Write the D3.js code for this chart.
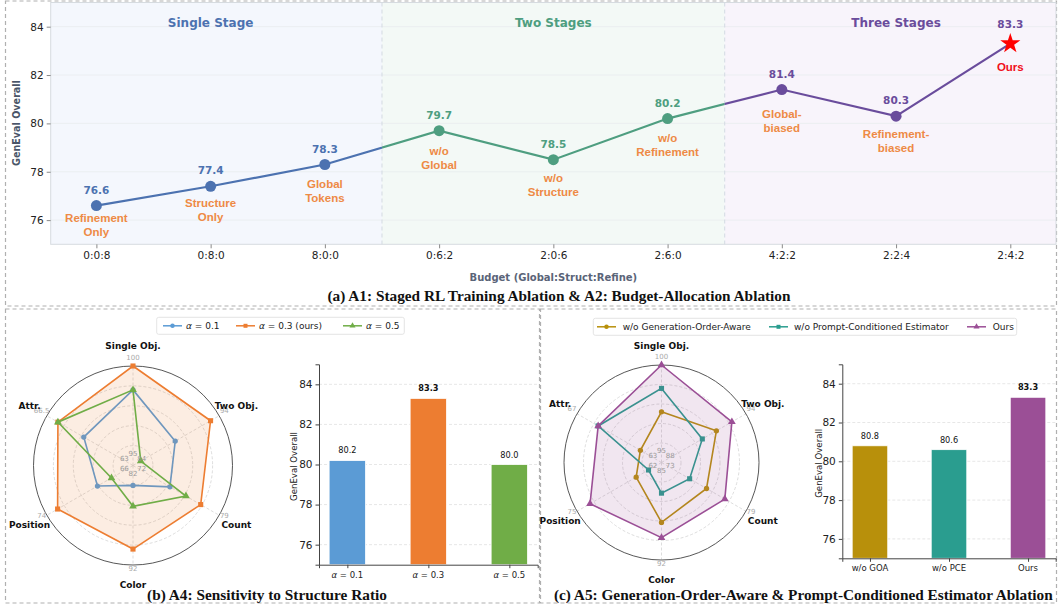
<!DOCTYPE html>
<html>
<head>
<meta charset="utf-8">
<script src="https://cdn.jsdelivr.net/npm/d3@7"></script>
<style>
  body { margin: 0; background: #fff; }
  svg { display: block; }
  text { font-family: "DejaVu Sans", sans-serif; }
</style>
</head>
<body>
<svg id="fig" width="1058" height="609"></svg>
<script>
// ---- data ----
const budgets = ["0:0:8", "0:8:0", "8:0:0", "0:6:2", "2:0:6", "2:6:0", "4:2:2", "2:2:4", "2:4:2"];
const budgetScores = [76.6, 77.4, 78.3, 79.7, 78.5, 80.2, 81.4, 80.3, 83.3];
const budgetStage = [0, 0, 0, 1, 1, 1, 2, 2, 2];
const stageNames = ["Single Stage", "Two Stages", "Three Stages"];
const stageEdges = [-0.4, 2.5, 5.5, 8.4];
const pointNotes = [["Refinement", "Only"], ["Structure", "Only"], ["Global", "Tokens"],
    ["w/o", "Global"], ["w/o", "Structure"], ["w/o", "Refinement"],
    ["Global-", "biased"], ["Refinement-", "biased"], ["Ours"]];

const radarAxes = ["Single Obj.", "Two Obj.", "Count", "Color", "Position", "Attr."];
const a4Min = [95, 84, 72, 82, 66, 63];
const a4Max = [100, 94, 79, 92, 74, 66.5];
const a4Names = ["0.1", "0.3 (ours)", "0.5"];
const alpha01 = [98.8, 88.9, 75.0, 84.0, 69.3, 65.0];
const alpha03 = [100, 93.0, 77.5, 90.4, 73.0, 66.05];
const alpha05 = [98.8, 84.9, 76.3, 86.1, 68.0, 66.05];
const a4BarLabels = ["0.1", "0.3", "0.5"];
const a4Overall = [80.2, 83.3, 80.0];

const a5Min = [95, 88, 73, 85, 62, 63];
const a5Max = [100, 94, 79, 92, 75, 67];
const a5Names = ["w/o Generation-Order-Aware", "w/o Prompt-Conditioned Estimator", "Ours"];
const woGOA = [97.6, 91.9, 76.2, 89.3, 65.9, 64.0];
const woPCE = [98.8, 90.9, 75.0, 87.2, 64.0, 66.0];
const oursA5 = [100, 93.0, 77.5, 90.4, 73.0, 66.0];
const a5BarLabels = ["w/o GOA", "w/o PCE", "Ours"];
const a5Overall = [80.8, 80.6, 83.3];

const yTicks = [76, 78, 80, 82, 84];

// ---- styles ----
const stageColor = ["#4C72B0", "#4E9E80", "#6A4C9C"];
const stageBg = ["#F4F7FD", "#F3F9F6", "#F8F4FB"];
const noteColor = "#EE8A45";
const a4Colors = ["#5B9BD5", "#ED7D31", "#70AD47"];
const a5Colors = ["#B8900B", "#2A9D8F", "#9B4F96"];
const markers = [d3.symbolCircle, d3.symbolSquare, d3.symbolTriangle];

const svg = d3.select("#fig");

// panel frames (dashed)
const frame = svg.append("g").attr("fill", "none").attr("stroke", "#b0b0b0")
    .attr("stroke-width", 1.2).attr("stroke-dasharray", "4,3");
frame.append("rect").attr("x", 5.5).attr("y", 1).attr("width", 1051).attr("height", 305);
frame.append("rect").attr("x", 5.5).attr("y", 309).attr("width", 534).attr("height", 294);
frame.append("rect").attr("x", 540.5).attr("y", 309).attr("width", 516).attr("height", 294);

// ================= (a) top line chart =================
function drawBudgetChart() {
    const x = d3.scaleLinear().domain([-0.4, 8.4]).range([50.7, 1056]);
    const y = d3.scaleLinear().domain([75, 85]).range([244.3, 2.5]);
    const g = svg.append("g");

    // stage backgrounds
    d3.range(3).forEach(s => {
        g.append("rect")
            .attr("x", x(stageEdges[s])).attr("y", y(85))
            .attr("width", x(stageEdges[s + 1]) - x(stageEdges[s]))
            .attr("height", y(75) - y(85))
            .attr("fill", stageBg[s]);
    });

    // grid
    g.append("g").selectAll("line").data(yTicks).join("line")
        .attr("x1", x(-0.4)).attr("x2", x(8.4))
        .attr("y1", d => y(d)).attr("y2", d => y(d))
        .attr("stroke", "#e9ecef").attr("stroke-width", 0.8);

    // stage separators
    g.append("g").selectAll("line").data(stageEdges.slice(1, 3)).join("line")
        .attr("x1", d => x(d)).attr("x2", d => x(d))
        .attr("y1", y(85)).attr("y2", y(75))
        .attr("stroke", "#d3dae2").attr("stroke-width", 1).attr("stroke-dasharray", "4,3");

    // frame of plot
    g.append("rect").attr("x", x(-0.4)).attr("y", y(85))
        .attr("width", x(8.4) - x(-0.4)).attr("height", y(75) - y(85))
        .attr("fill", "none").attr("stroke", "#d6dbe0").attr("stroke-width", 1);

    // stage titles
    const mids = [1, 4, 7];
    d3.range(3).forEach(s => {
        g.append("text").attr("x", x(mids[s])).attr("y", 23)
            .attr("text-anchor", "middle").attr("dominant-baseline", "central")
            .attr("font-size", 12).attr("font-weight", "bold").attr("fill", stageColor[s])
            .text(stageNames[s]);
    });

    // line, clipped per stage
    const pts = budgetScores.map((v, i) => [i, v]);
    const line = d3.line().x(d => x(d[0])).y(d => y(d[1]));
    d3.range(3).forEach(s => {
        const id = "clipStage" + s;
        svg.append("clipPath").attr("id", id).append("rect")
            .attr("x", x(stageEdges[s])).attr("y", 0)
            .attr("width", x(stageEdges[s + 1]) - x(stageEdges[s])).attr("height", 300);
        g.append("path").datum(pts).attr("d", line)
            .attr("clip-path", "url(#" + id + ")")
            .attr("fill", "none").attr("stroke", stageColor[s]).attr("stroke-width", 2.2);
    });

    // markers
    const last = budgetScores.length - 1;
    g.append("g").selectAll("circle").data(pts.slice(0, last)).join("circle")
        .attr("cx", d => x(d[0])).attr("cy", d => y(d[1])).attr("r", 5.5)
        .attr("fill", d => stageColor[budgetStage[d[0]]]);
    g.append("path")
        .attr("d", d3.symbol(d3.symbolStar).size(125)())
        .attr("transform", `translate(${x(last)},${y(budgetScores[last])})`)
        .attr("fill", "#FF0000");

    // value labels
    g.append("g").selectAll("text").data(pts).join("text")
        .attr("x", d => x(d[0]))
        .attr("y", d => y(d[1]) - (d[0] === last ? 19.5 : 16))
        .attr("text-anchor", "middle").attr("dominant-baseline", "central")
        .attr("font-size", 10.5).attr("font-weight", "bold")
        .attr("fill", d => stageColor[budgetStage[d[0]]])
        .text(d => d[1].toFixed(1));

    // notes under points
    const noteDy = [12, 16.5, 19.5, 20.5, 18.5, 19, 24.5, 17.5, 23];
    pts.forEach((d, i) => {
        const t = g.append("text")
            .attr("text-anchor", "middle")
            .style("font-family", "'Liberation Sans', Arial, sans-serif")
            .attr("font-size", 11.5).attr("font-weight", "bold")
            .attr("fill", i === last ? "#F01020" : noteColor);
        pointNotes[i].forEach((s, k) => {
            t.append("tspan").attr("x", x(i)).attr("y", y(d[1]) + noteDy[i] + k * 14.3)
                .attr("dominant-baseline", "central").text(s);
        });
    });

    // axes
    const ya = g.append("g").attr("transform", `translate(${x(-0.4)},0)`)
        .call(d3.axisLeft(y).tickValues(yTicks).tickSize(4).tickPadding(3));
    const xa = g.append("g").attr("transform", `translate(0,${y(75)})`)
        .call(d3.axisBottom(x).tickValues(d3.range(9)).tickFormat(i => budgets[i]).tickSize(4).tickPadding(3));
    [ya, xa].forEach(a => {
        a.select(".domain").remove();
        a.selectAll(".tick line").attr("stroke", "#888");
        a.selectAll(".tick text").attr("font-size", 10.5).attr("fill", "#222")
            .style("font-family", "'DejaVu Sans', sans-serif");
    });

    g.append("text").attr("transform", "translate(16,123) rotate(-90)")
        .attr("text-anchor", "middle").attr("dominant-baseline", "central")
        .attr("font-size", 9.6).attr("font-weight", "bold").attr("fill", "#4A5568")
        .text("GenEval Overall");
    g.append("text").attr("x", (x(-0.4) + x(8.4)) / 2).attr("y", 277)
        .attr("text-anchor", "middle").attr("dominant-baseline", "central")
        .attr("font-size", 10).attr("font-weight", "bold").attr("fill", "#5A6478")
        .text("Budget (Global:Struct:Refine)");
}

// ================= radar =================
function drawRadar(cx, cy, R, mins, maxs, series, colors, fillIdx) {
    const g = svg.append("g");
    const n = radarAxes.length;
    const ang = i => i * 2 * Math.PI / n;
    const pt = (i, r) => [cx + r * Math.sin(ang(i)), cy - r * Math.cos(ang(i))];
    const scales = mins.map((m, i) => d3.scaleLinear().domain([m, maxs[i]]).range([0, R]));

    [0.2, 0.4, 0.6, 0.8].forEach(f => {
        g.append("circle").attr("cx", cx).attr("cy", cy).attr("r", f * R)
            .attr("fill", "none").attr("stroke", "#d4d4d4").attr("stroke-width", 0.8)
            .attr("stroke-dasharray", "3,2");
    });
    d3.range(n).forEach(i => {
        const p = pt(i, R);
        g.append("line").attr("x1", cx).attr("y1", cy).attr("x2", p[0]).attr("y2", p[1])
            .attr("stroke", "#d4d4d4").attr("stroke-width", 0.8).attr("stroke-dasharray", "3,2");
    });
    g.append("circle").attr("cx", cx).attr("cy", cy).attr("r", R)
        .attr("fill", "none").attr("stroke", "#444").attr("stroke-width", 0.9);

    const poly = d3.line().curve(d3.curveLinearClosed);
    series.forEach((vals, s) => {
        const p = vals.map((v, i) => pt(i, scales[i](v)));
        g.append("path").attr("d", poly(p))
            .attr("fill", s === fillIdx ? colors[s] : "none").attr("fill-opacity", 0.14)
            .attr("stroke", colors[s]).attr("stroke-width", 1.6);
        p.forEach(q => {
            g.append("path").attr("d", d3.symbol(markers[s]).size(s === 0 ? 22 : 26)())
                .attr("transform", `translate(${q[0]},${q[1]})`).attr("fill", colors[s]);
        });
    });

    // range labels
    d3.range(n).forEach(i => {
        const pIn = pt(i, 10), pOut = pt(i, R * 1.06), pLab = pt(i, R * 1.2);
        g.append("text").attr("x", pIn[0]).attr("y", pIn[1] - 2)
            .attr("text-anchor", "middle").attr("dominant-baseline", "central")
            .attr("font-size", 7).attr("fill", "#999").text(mins[i]);
        g.append("text").attr("x", pOut[0]).attr("y", pOut[1] - 2)
            .attr("text-anchor", "middle").attr("dominant-baseline", "central")
            .attr("font-size", 7).attr("fill", "#aaa").text(maxs[i]);
        g.append("text").attr("x", pLab[0]).attr("y", pLab[1])
            .attr("text-anchor", "middle").attr("dominant-baseline", "central")
            .attr("font-size", 9).attr("font-weight", "bold").attr("fill", "#111").text(radarAxes[i]);
    });
}

// ================= legend =================
function drawLegend(x0, y0, w, items, colors, lineX, textX, isAlpha) {
    const g = svg.append("g");
    g.append("rect").attr("x", x0).attr("y", y0).attr("width", w).attr("height", 17)
        .attr("rx", 2).attr("fill", "#fff").attr("stroke", "#ddd").attr("stroke-width", 0.8);
    const cy = y0 + 8.5;
    items.forEach((name, k) => {
        g.append("line").attr("x1", lineX[k]).attr("x2", lineX[k] + 19)
            .attr("y1", cy).attr("y2", cy).attr("stroke", colors[k]).attr("stroke-width", 1.5);
        g.append("path").attr("d", d3.symbol(markers[k]).size(16)())
            .attr("transform", `translate(${lineX[k] + 9.5},${cy})`).attr("fill", colors[k]);
        const t = g.append("text").attr("x", textX[k]).attr("y", cy)
            .attr("dominant-baseline", "central").attr("font-size", 9).attr("fill", "#222");
        if (isAlpha) {
            t.append("tspan").attr("font-style", "italic").text("α");
            t.append("tspan").text(" = " + name);
        } else {
            t.text(name);
        }
    });
}

// ================= bars =================
function drawBars(x0, x1, yTop, yBot, labels, vals, colors, isAlpha, ylabX) {
    const g = svg.append("g");
    const x = d3.scaleLinear().domain([-0.35, 2.35]).range([x0, x1]);
    const y = d3.scaleLinear().domain([75, 85]).range([yBot, yTop]);
    const bw = (x(1) - x(0)) * 0.45;

    g.append("g").selectAll("line").data(yTicks).join("line")
        .attr("x1", x0).attr("x2", x1).attr("y1", d => y(d)).attr("y2", d => y(d))
        .attr("stroke", "#dcdcdc").attr("stroke-width", 0.7).attr("stroke-dasharray", "3,2");

    g.append("g").selectAll("rect").data(vals).join("rect")
        .attr("x", (d, i) => x(i) - bw / 2).attr("width", bw)
        .attr("y", d => y(d)).attr("height", d => y(75) - y(d))
        .attr("fill", (d, i) => colors[i]).attr("stroke", "#fff").attr("stroke-width", 0.8);

    g.append("g").selectAll("text").data(vals).join("text")
        .attr("x", (d, i) => x(i)).attr("y", d => y(d) - 10)
        .attr("text-anchor", "middle").attr("dominant-baseline", "central")
        .attr("font-size", 8.2).attr("fill", "#111")
        .attr("font-weight", d => d === d3.max(vals) ? "bold" : "normal")
        .text(d => d.toFixed(1));

    const ya = g.append("g").attr("transform", `translate(${x0},0)`)
        .call(d3.axisLeft(y).tickValues(yTicks).tickSize(3.5).tickPadding(3));
    const xa = g.append("g").attr("transform", `translate(0,${yBot})`)
        .call(d3.axisBottom(x).tickValues([0, 1, 2]).tickSize(3.5).tickPadding(2)
            .tickFormat(() => ""));
    [ya, xa].forEach(a => {
        a.select(".domain").attr("stroke", "#444").attr("stroke-width", 1);
        a.selectAll(".tick line").attr("stroke", "#444");
    });
    ya.selectAll(".tick text").attr("font-size", 10.5).attr("fill", "#222")
        .style("font-family", "'DejaVu Sans', sans-serif");
    xa.selectAll(".tick text").remove();
    labels.forEach((s, i) => {
        const t = g.append("text").attr("x", x(i)).attr("y", yBot + 10)
            .attr("text-anchor", "middle").attr("dominant-baseline", "central")
            .attr("font-size", 8.5).attr("fill", "#222");
        if (isAlpha) {
            t.append("tspan").attr("font-style", "italic").text("α");
            t.append("tspan").text(" = " + s);
        } else t.text(s);
    });

    g.append("text").attr("transform", `translate(${ylabX},${(yTop + yBot) / 2 + 2}) rotate(-90)`)
        .attr("text-anchor", "middle").attr("dominant-baseline", "central")
        .attr("font-size", 8.6).attr("fill", "#222").text("GenEval Overall");
}

// ================= captions =================
function caption(cx, y, s) {
    svg.append("text").attr("x", cx).attr("y", y).attr("text-anchor", "middle")
        .style("font-family", "'Liberation Serif', 'Times New Roman', serif")
        .attr("font-size", 15.3).attr("font-weight", "bold").attr("fill", "#111").text(s);
}

drawBudgetChart();
caption(559, 300.5, "(a) A1: Staged RL Training Ablation & A2: Budget-Allocation Ablation");

drawRadar(133, 465.5, 99.5, a4Min, a4Max, [alpha01, alpha03, alpha05], a4Colors, 1);
drawLegend(156.7, 317.3, 247.6, a4Names, a4Colors, [163, 236, 343], [186, 259, 366], true);
drawBars(319, 537.7, 364.3, 564.7, a4BarLabels, a4Overall, a4Colors, true, 294);
caption(267, 599.5, "(b) A4: Sensitivity to Structure Ratio");

drawRadar(661.5, 462.5, 97.5, a5Min, a5Max, [woGOA, woPCE, oursA5], a5Colors, 2);
drawLegend(593.3, 318.3, 423.4, a5Names, a5Colors, [597, 769, 967], [622.7, 794, 992.7], false);
drawBars(842.3, 1055.7, 364.3, 558.3, a5BarLabels, a5Overall, a5Colors, false, 819);
caption(803.3, 599.5, "(c) A5: Generation-Order-Aware & Prompt-Conditioned Estimator Ablation");
</script>
</body>
</html>
